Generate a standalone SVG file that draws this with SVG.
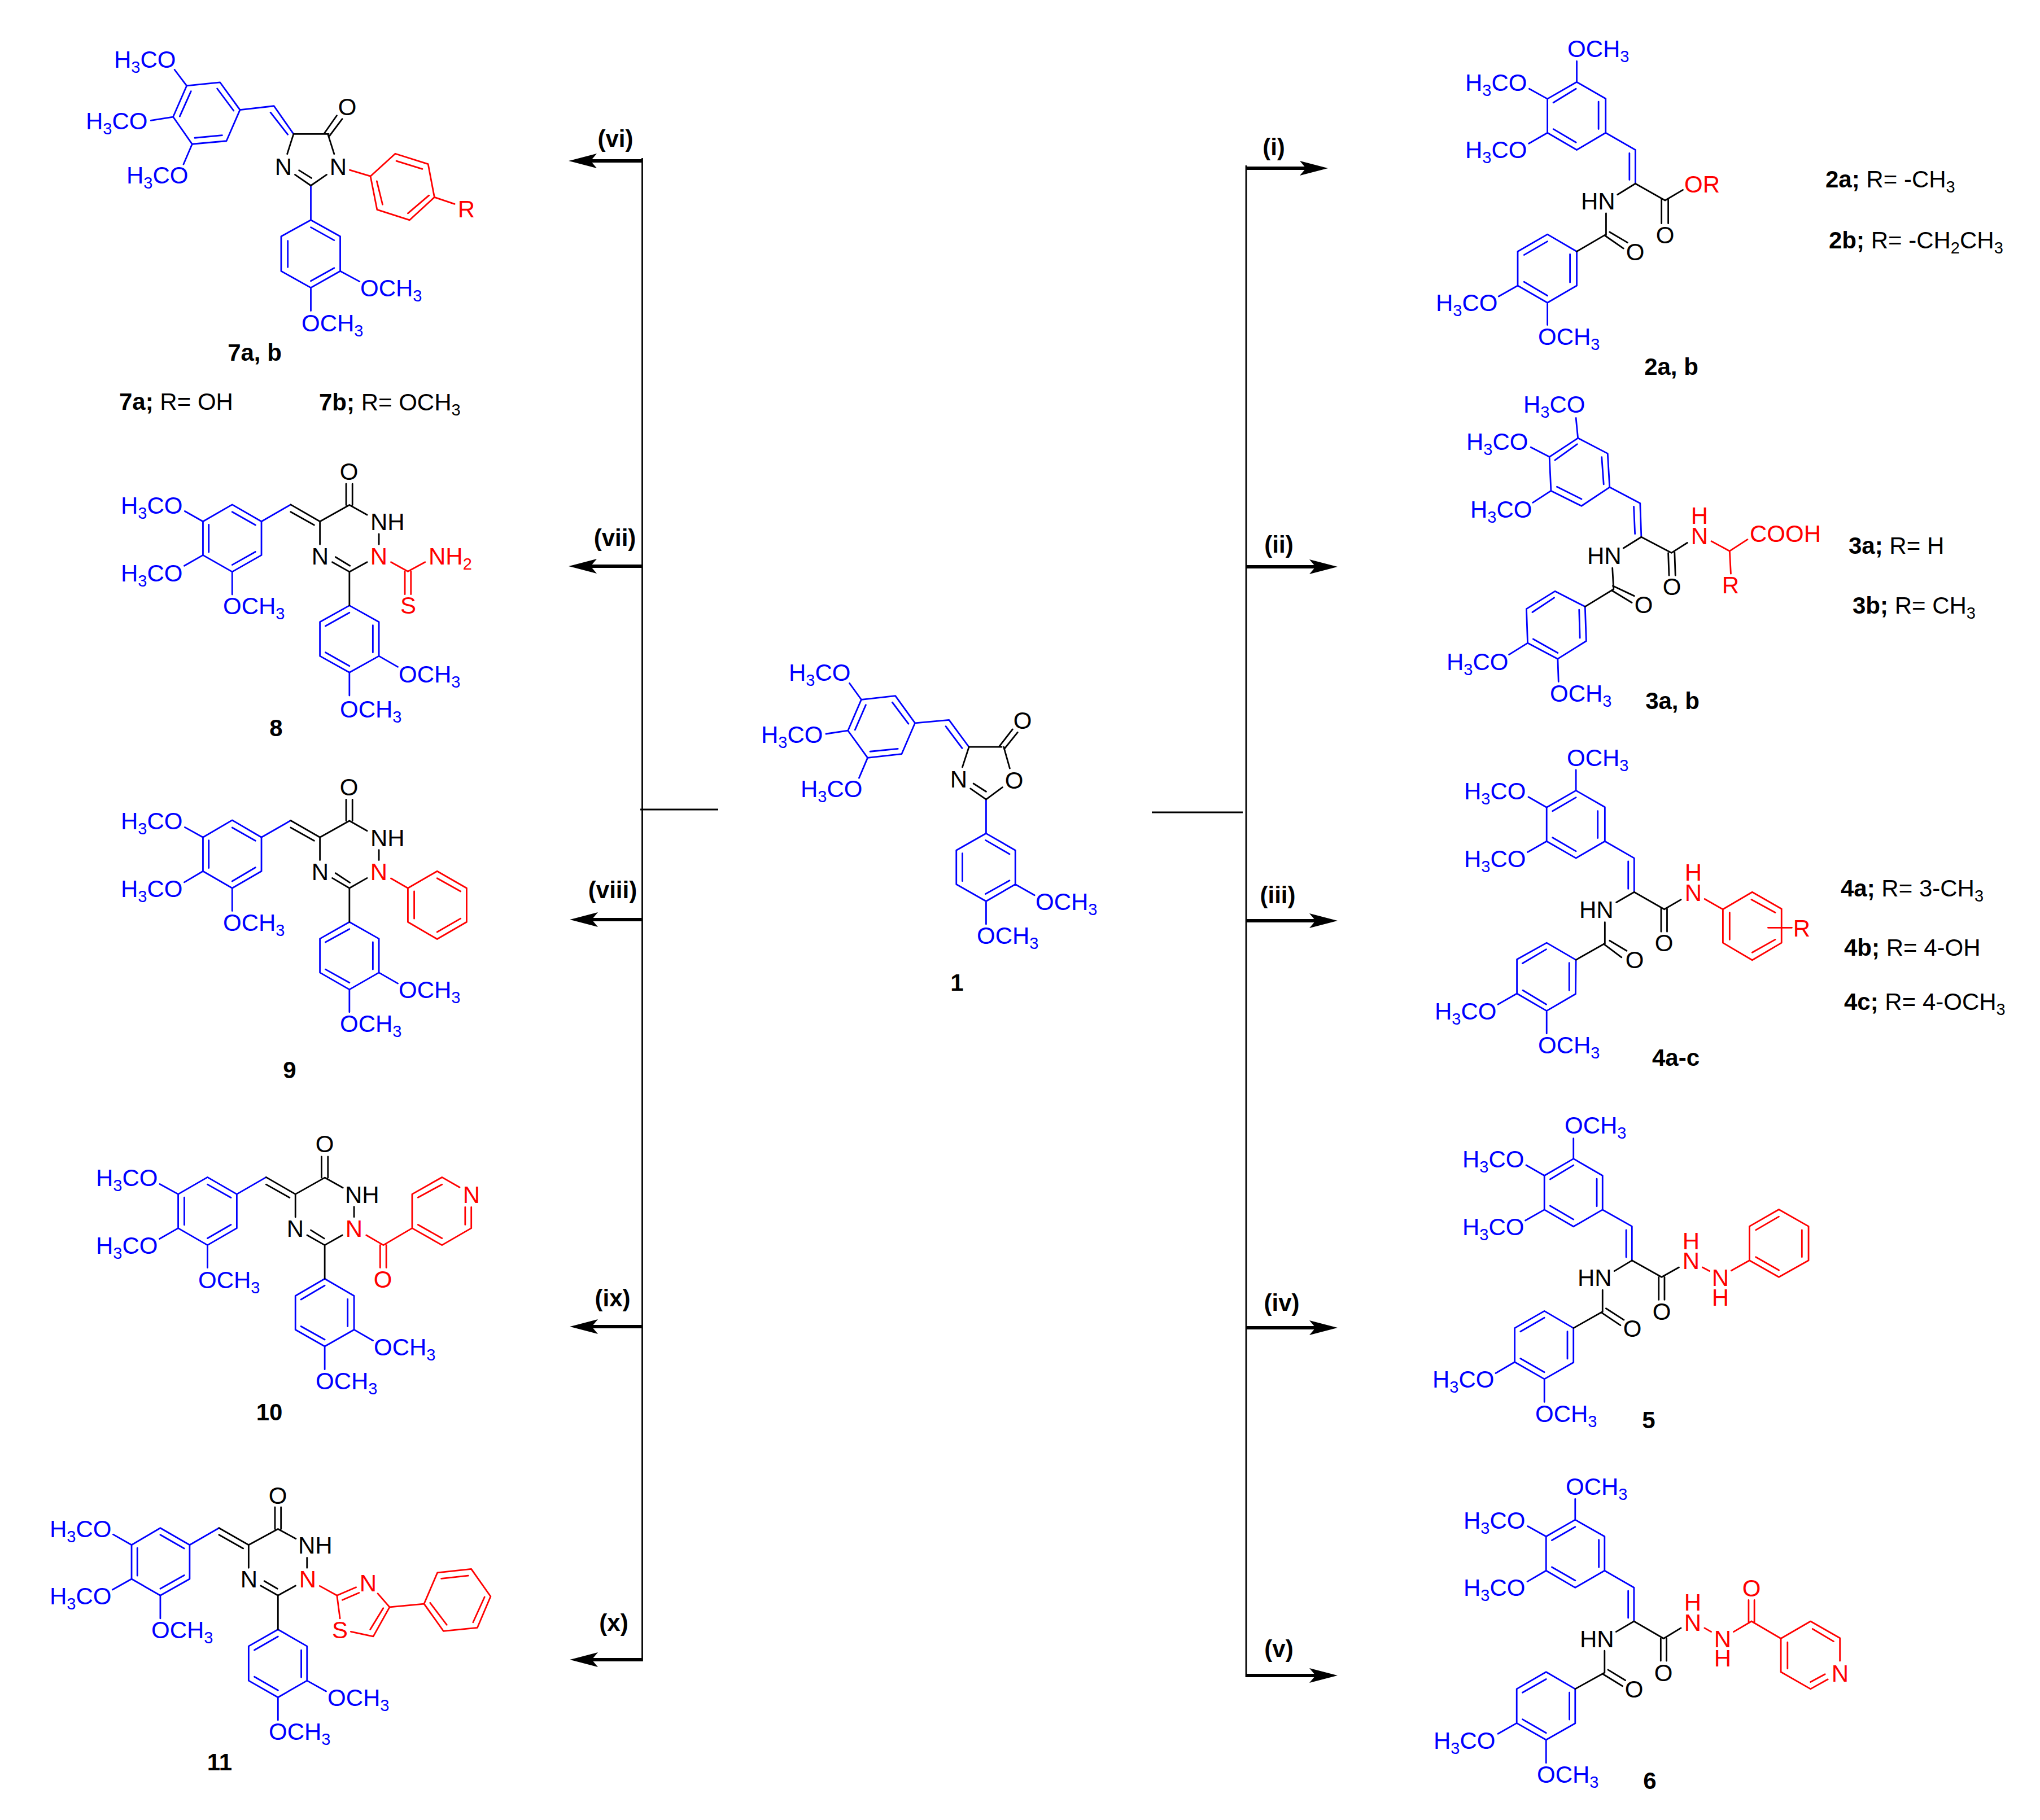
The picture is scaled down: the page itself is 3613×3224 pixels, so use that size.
<svg xmlns="http://www.w3.org/2000/svg" width="3613" height="3224" viewBox="0 0 3613 3224">
<style>
text{font-family:"Liberation Sans",Arial,sans-serif;font-size:42px;fill:#000}
.u{fill:#00f}.r{fill:#f00}.m{text-anchor:middle}.l{font-weight:bold}.s{font-size:29px}
path{fill:none;stroke-width:2.8;stroke-linejoin:round;stroke-linecap:round;vector-effect:non-scaling-stroke}
.B{stroke:#00f}.R{stroke:#f00}.K{stroke:#000}
.thin{stroke:#000;stroke-width:2.8;fill:none}
.shaft{stroke:#000;stroke-width:6;fill:none;marker-end:url(#head)}
</style>
<defs><marker id="head" markerUnits="userSpaceOnUse" markerWidth="50" markerHeight="26" viewBox="0 0 50 26" refX="15" refY="13" orient="auto"><polygon points="0,0 50,13 0,26 11,13" fill="#000"/></marker></defs>
<rect width="3613" height="3224" fill="#fff"/>

<g id="connectors">
<line class="thin" x1="1137.5" y1="280" x2="1137.5" y2="2943"/>
<line class="thin" x1="2207" y1="293" x2="2207" y2="2971"/>
<line class="thin" x1="1134" y1="1434" x2="1272" y2="1434"/>
<line class="thin" x1="2040" y1="1439" x2="2201" y2="1439"/>
<line class="shaft" x1="1137" y1="285" x2="1042" y2="285"/>
<line class="shaft" x1="1137" y1="1003" x2="1042" y2="1003"/>
<line class="shaft" x1="1137" y1="1629" x2="1044" y2="1629"/>
<line class="shaft" x1="1137" y1="2350" x2="1044" y2="2350"/>
<line class="shaft" x1="1137" y1="2940" x2="1044" y2="2940"/>
<line class="shaft" x1="2207" y1="298" x2="2317" y2="298"/>
<line class="shaft" x1="2207" y1="1004" x2="2334" y2="1004"/>
<line class="shaft" x1="2207" y1="1631" x2="2334" y2="1631"/>
<line class="shaft" x1="2207" y1="2352" x2="2334" y2="2352"/>
<line class="shaft" x1="2207" y1="2968" x2="2334" y2="2968"/>
</g>
<g id="connector-labels">
<text class="l m" x="1090" y="260">(vi)</text>
<text class="l m" x="1089" y="967">(vii)</text>
<text class="l m" x="1085" y="1591">(viii)</text>
<text class="l m" x="1085" y="2314">(ix)</text>
<text class="l m" x="1087" y="2889">(x)</text>
<text class="l m" x="2256" y="275">(i)</text>
<text class="l m" x="2265" y="979">(ii)</text>
<text class="l m" x="2263" y="1600">(iii)</text>
<text class="l m" x="2270" y="2322">(iv)</text>
<text class="l m" x="2265" y="2935">(v)</text>
</g>

<g id="compound-1">
<g transform="translate(1300,1100) scale(.44643)">
<path class="B" d="M505 312L640 297L718 405L665 528L530 543L452 435ZM628 323L692 408M650 507L540 518M480 432L523 333M505 312L458 247M452 435L365 448M530 543L496 623M718 405L853 393L932 500M840 418L905 505M1000 708L1000 843L1116 910L1116 1045L1000 1112L882 1045L882 910L1000 843M998 870L1093 925M906 922L906 1032M998 1083L1093 1030M1116 1045L1192 1088M1000 1112L1000 1203"/>
<path class="K" d="M932 500L1062 500M1052 498L1105 430M1072 508L1125 442M1070 500L1094 585M932 500L906 580M1000 708L1065 660M1000 708L938 665M1000 677L950 645"/>
</g>
<text class="u" x="1397" y="1206">H<tspan class="s" dy="9">3</tspan><tspan dy="-9">CO</tspan></text>
<text class="u" x="1348" y="1316">H<tspan class="s" dy="9">3</tspan><tspan dy="-9">CO</tspan></text>
<text class="u" x="1418" y="1412">H<tspan class="s" dy="9">3</tspan><tspan dy="-9">CO</tspan></text>
<text class="m" x="1811" y="1291">O</text>
<text class="m" x="1698" y="1395">N</text>
<text class="m" x="1796" y="1397">O</text>
<text class="u" x="1834" y="1612">OCH<tspan class="s" dy="9">3</tspan></text>
<text class="u" x="1730" y="1672">OCH<tspan class="s" dy="9">3</tspan></text>
<text class="l m" x="1695" y="1755">1</text>
</g>

<g id="compound-2">
<g transform="translate(2500,40) scale(.70153,.41454)">
<path class="B" d="M417 254L490 325L490 471L417 544L343 471L343 326ZM472 338L472 455M415 283L358 342M358 455L415 512M417 254L417 165M343 326L297 283M343 471L296 517M490 471L565 544L565 688M550 558L550 672M417 978L343 905L268 978L268 1124L343 1197L417 1124ZM400 990L400 1110M343 935L284 993M284 1108L343 1167M268 1124L220 1170M343 1197L343 1292"/>
<path class="K" d="M565 688L640 760M565 688L520 735M640 760L685 715M631 757L631 858M648 757L648 858M491 815L491 908M500 895L545 940M488 910L535 965M491 905L417 978"/>
</g>
<text class="u" x="2776" y="101">OCH<tspan class="s" dy="9">3</tspan></text>
<text class="u" x="2595" y="161">H<tspan class="s" dy="9">3</tspan><tspan dy="-9">CO</tspan></text>
<text class="u" x="2595" y="280">H<tspan class="s" dy="9">3</tspan><tspan dy="-9">CO</tspan></text>
<text class="r" x="2983" y="341">OR</text>
<text x="2800" y="371">HN</text>
<text class="m" x="2949" y="431">O</text>
<text class="m" x="2896" y="461">O</text>
<text class="u" x="2543" y="551">H<tspan class="s" dy="9">3</tspan><tspan dy="-9">CO</tspan></text>
<text class="u" x="2724" y="611">OCH<tspan class="s" dy="9">3</tspan></text>
<text class="l m" x="2960" y="664">2a, b</text>
<text x="3233" y="332"><tspan class="l">2a;</tspan> R= -CH<tspan class="s" dy="9">3</tspan></text>
<text x="3239" y="440"><tspan class="l">2b;</tspan> R= -CH<tspan class="s" dy="9">2</tspan><tspan dy="-9">CH</tspan><tspan class="s" dy="9">3</tspan></text>
</g>

<g id="compound-3">
<g transform="translate(2500,680) scale(.70153,.39541)">
<path class="B" d="M420 243L495 312L500 463L429 547L352 479L348 327ZM480 328L485 450M418 270L362 342M367 461L429 516M420 243L415 153M348 327L301 284M352 479L306 532M500 463L577 535L580 686M561 550L564 672M438 998L362 929L290 1008L293 1161L369 1232L441 1152ZM423 1012L425 1138M360 958L305 1023M307 1143L369 1205M293 1161L246 1213M369 1232L371 1334"/>
<path class="K" d="M580 686L656 757M580 686L535 736M648 758L650 858M664 755L666 858M656 757L696 712M507 825L510 920M508 905L562 950M505 925L556 980M510 920L438 998"/>
<path class="R" d="M757 705L803 749L848 697M803 749L806 850"/>
</g>
<text class="u" x="2698" y="731">H<tspan class="s" dy="9">3</tspan><tspan dy="-9">CO</tspan></text>
<text class="u" x="2597" y="797">H<tspan class="s" dy="9">3</tspan><tspan dy="-9">CO</tspan></text>
<text class="u" x="2604" y="917">H<tspan class="s" dy="9">3</tspan><tspan dy="-9">CO</tspan></text>
<text class="r m" x="3010" y="928">H</text>
<text class="r m" x="3010" y="964">N</text>
<text class="r" x="3099" y="960">COOH</text>
<text x="2811" y="999">HN</text>
<text class="m" x="2961" y="1054">O</text>
<text class="r m" x="3065" y="1051">R</text>
<text class="m" x="2911" y="1086">O</text>
<text class="u" x="2562" y="1187">H<tspan class="s" dy="9">3</tspan><tspan dy="-9">CO</tspan></text>
<text class="u" x="2745" y="1243">OCH<tspan class="s" dy="9">3</tspan></text>
<text class="l m" x="2962" y="1256">3a, b</text>
<text x="3274" y="981"><tspan class="l">3a;</tspan> R= H</text>
<text x="3281" y="1087"><tspan class="l">3b;</tspan> R= CH<tspan class="s" dy="9">3</tspan></text>
</g>

<g id="compound-4">
<g transform="translate(2500,1320) scale(.70153,.38265)">
<path class="B" d="M415 210L488 287L488 445L415 523L341 445L341 288ZM470 305L470 430M415 242L356 305M356 428L415 491M415 210L415 115M341 288L295 240M341 445L293 495M488 445L562 523L562 680M547 538L547 665M415 994L341 915L266 992L266 1150L341 1230L414 1152ZM398 1008L398 1135M340 945L280 1010M281 1135L340 1200M266 1150L218 1200M341 1230L341 1335"/>
<path class="K" d="M562 680L638 760M562 680L517 728M638 760L680 715M630 757L630 863M645 757L645 863M488 820L488 918M500 905L543 952M485 920L530 982M488 918L415 994"/>
<path class="R" d="M740 712L786 760L860 680L934 758L934 915L860 995L786 915L786 760M858 715L918 775M918 900L860 960M803 775L803 900M900 845L960 845"/>
</g>
<text class="u" x="2775" y="1357">OCH<tspan class="s" dy="9">3</tspan></text>
<text class="u" x="2593" y="1416">H<tspan class="s" dy="9">3</tspan><tspan dy="-9">CO</tspan></text>
<text class="u" x="2593" y="1536">H<tspan class="s" dy="9">3</tspan><tspan dy="-9">CO</tspan></text>
<text class="r m" x="2999" y="1560">H</text>
<text class="r m" x="2999" y="1596">N</text>
<text x="2797" y="1626">HN</text>
<text class="r m" x="3191" y="1659">R</text>
<text class="m" x="2947" y="1685">O</text>
<text class="m" x="2895" y="1715">O</text>
<text class="u" x="2541" y="1806">H<tspan class="s" dy="9">3</tspan><tspan dy="-9">CO</tspan></text>
<text class="u" x="2724" y="1866">OCH<tspan class="s" dy="9">3</tspan></text>
<text class="l m" x="2968" y="1888">4a-c</text>
<text x="3260" y="1588"><tspan class="l">4a;</tspan> R= 3-CH<tspan class="s" dy="9">3</tspan></text>
<text x="3266" y="1693"><tspan class="l">4b;</tspan> R= 4-OH</text>
<text x="3266" y="1789"><tspan class="l">4c;</tspan> R= 4-OCH<tspan class="s" dy="9">3</tspan></text>
</g>

<g id="compound-5">
<g transform="translate(2500,1960) scale(.5102,.38265)">
<path class="B" d="M562 242L663 320L663 478L562 556L461 478L461 320ZM643 335L643 462M562 272L481 337M481 460L562 523M562 242L562 148M461 320L398 272M461 478L395 528M663 478L765 555L765 713M745 572L745 698M562 1026L461 947L358 1026L358 1183L461 1262L562 1185ZM541 1042L541 1168M461 978L378 1042M378 1167L461 1230M358 1183L292 1235M461 1262L461 1368"/>
<path class="K" d="M765 713L868 790M765 713L704 762M868 790L928 745M858 790L858 895M878 790L878 895M663 850L663 950M675 935L737 988M660 955L725 1013M663 950L562 1026"/>
<path class="R" d="M1010 745L1034 762M1110 760L1173 713L1173 555L1275 477L1378 555L1378 713L1275 790L1173 713M1195 572L1275 510M1355 572L1355 697M1275 758L1195 697"/>
</g>
<text class="u" x="2771" y="2008">OCH<tspan class="s" dy="9">3</tspan></text>
<text class="u" x="2590" y="2068">H<tspan class="s" dy="9">3</tspan><tspan dy="-9">CO</tspan></text>
<text class="u" x="2590" y="2188">H<tspan class="s" dy="9">3</tspan><tspan dy="-9">CO</tspan></text>
<text class="r m" x="2995" y="2213">H</text>
<text class="r m" x="2995" y="2248">N</text>
<text x="2794" y="2278">HN</text>
<text class="r m" x="3047" y="2278">N</text>
<text class="r m" x="3047" y="2313">H</text>
<text class="m" x="2943" y="2338">O</text>
<text class="m" x="2891" y="2368">O</text>
<text class="u" x="2537" y="2458">H<tspan class="s" dy="9">3</tspan><tspan dy="-9">CO</tspan></text>
<text class="u" x="2719" y="2519">OCH<tspan class="s" dy="9">3</tspan></text>
<text class="l m" x="2920" y="2530">5</text>
</g>

<g id="compound-6">
<g transform="translate(2500,2600) scale(.5102,.39541)">
<path class="B" d="M568 233L670 308L670 461L568 537L467 461L467 308ZM650 323L650 446M568 265L487 325M487 445L568 505M568 233L568 140M467 308L403 262M467 461L402 510M670 461L772 537L772 688M752 552L752 673M568 991L467 915L365 991L365 1144L467 1219L568 1145ZM548 1007L548 1128M467 947L385 1007M385 1127L467 1188M365 1144L300 1192M467 1219L467 1322"/>
<path class="K" d="M772 688L875 765M772 688L710 735M875 765L935 718M865 765L865 865M885 765L885 865M670 820L670 918M682 905L742 952M665 925L732 978M670 918L568 991"/>
<path class="R" d="M1017 718L1040 735M1118 735L1180 688M1170 690L1170 593M1190 690L1190 593M1180 688L1282 765L1385 688L1487 763L1487 865M1282 765L1282 915L1385 991L1445 948M1392 722L1465 778M1305 782L1305 900M1385 960L1435 925"/>
</g>
<text class="u" x="2773" y="2648">OCH<tspan class="s" dy="9">3</tspan></text>
<text class="u" x="2592" y="2708">H<tspan class="s" dy="9">3</tspan><tspan dy="-9">CO</tspan></text>
<text class="u" x="2592" y="2827">H<tspan class="s" dy="9">3</tspan><tspan dy="-9">CO</tspan></text>
<text class="r m" x="3102" y="2828">O</text>
<text class="r m" x="2998" y="2853">H</text>
<text class="r m" x="2998" y="2889">N</text>
<text x="2798" y="2918">HN</text>
<text class="r m" x="3051" y="2918">N</text>
<text class="r m" x="3051" y="2952">H</text>
<text class="r m" x="3259" y="2979">N</text>
<text class="m" x="2946" y="2978">O</text>
<text class="m" x="2894" y="3007">O</text>
<text class="u" x="2539" y="3098">H<tspan class="s" dy="9">3</tspan><tspan dy="-9">CO</tspan></text>
<text class="u" x="2722" y="3158">OCH<tspan class="s" dy="9">3</tspan></text>
<text class="l m" x="2922" y="3169">6</text>
</g>

<g id="compound-7">
<g transform="translate(100,50) scale(.5102,.45918)">
<path class="B" d="M452 222L568 209L637 315L590 435L471 447L405 342ZM558 233L615 318M575 413L480 423M428 340L467 243M452 222L410 160M405 342L328 356M471 447L441 525M637 315L755 300L823 408M743 325L803 410M883 607L883 740L985 803L985 937L883 1001L780 937L780 803L883 740M883 768L964 818M803 820L803 922M883 975L964 925M985 937L1052 977M883 1001L883 1090"/>
<path class="K" d="M823 408L945 408M930 405L973 337M948 415L992 350M942 408L964 485M823 408L801 485M883 607L938 565M883 607L828 565M885 578L842 548"/>
<path class="R" d="M1018 547L1090 571L1176 484L1290 524L1312 652L1226 740L1113 700L1090 571M1180 512L1270 543M1293 645L1220 714M1132 680L1112 590M1312 652L1382 678"/>
</g>
<text class="u" x="202" y="120">H<tspan class="s" dy="9">3</tspan><tspan dy="-9">CO</tspan></text>
<text class="u" x="152" y="229">H<tspan class="s" dy="9">3</tspan><tspan dy="-9">CO</tspan></text>
<text class="u" x="224" y="325">H<tspan class="s" dy="9">3</tspan><tspan dy="-9">CO</tspan></text>
<text class="m" x="615" y="204">O</text>
<text class="m" x="502" y="310">N</text>
<text class="m" x="599" y="310">N</text>
<text class="r m" x="826" y="385">R</text>
<text class="u" x="638" y="525">OCH<tspan class="s" dy="9">3</tspan></text>
<text class="u" x="534" y="587">OCH<tspan class="s" dy="9">3</tspan></text>
<text class="l m" x="451" y="639">7a, b</text>
<text x="211" y="726"><tspan class="l">7a;</tspan> R= OH</text>
<text x="565" y="727"><tspan class="l">7b;</tspan> R= OCH<tspan class="s" dy="9">3</tspan></text>
</g>

<g id="compound-8">
<g transform="translate(180,800) scale(.44643,.33163)">
<path class="B" d="M518 283L634 373L634 553L518 642L402 553L402 373ZM518 322L610 392M610 535L518 605M425 390L425 537M402 373L330 318M402 553L328 610M518 642L518 763M634 373L750 283M983 822L1100 910L1100 1092L983 1180L866 1092L866 910ZM983 860L888 932M1076 928L1076 1073M983 1145L888 1073M1100 1092L1175 1150M983 1180L983 1303"/>
<path class="K" d="M750 283L866 373M750 322L843 392M866 373L983 285L1053 338M970 285L970 172M995 285L995 172M866 373L866 495M1100 440L1100 495M983 642L1053 590M983 642L915 590M985 610L928 563M983 642L983 822"/>
<path class="R" d="M1148 590L1215 640L1283 590M1203 640L1203 762M1227 640L1227 762"/>
</g>
<text class="u" x="214" y="910">H<tspan class="s" dy="9">3</tspan><tspan dy="-9">CO</tspan></text>
<text class="u" x="214" y="1030">H<tspan class="s" dy="9">3</tspan><tspan dy="-9">CO</tspan></text>
<text class="u" x="395" y="1088">OCH<tspan class="s" dy="9">3</tspan></text>
<text class="m" x="618" y="850">O</text>
<text x="656" y="939">NH</text>
<text class="m" x="567" y="1000">N</text>
<text class="r m" x="671" y="1000">N</text>
<text class="r" x="759" y="1000">NH<tspan class="s" dy="9">2</tspan></text>
<text class="r m" x="723" y="1087">S</text>
<text class="u" x="706" y="1209">OCH<tspan class="s" dy="9">3</tspan></text>
<text class="u" x="602" y="1271">OCH<tspan class="s" dy="9">3</tspan></text>
<text class="l m" x="489" y="1304">8</text>
</g>

<g id="compound-9">
<g transform="translate(180,1360) scale(.44643,.35714)">
<path class="B" d="M518 260L634 345L634 513L518 597L402 513L402 345ZM518 297L610 362M610 495L518 563M425 360L425 497M402 345L330 295M402 513L328 568M518 597L518 710M634 345L750 262M983 765L1100 848L1100 1016L983 1100L866 1016L866 848ZM983 800L888 865M1076 865L1076 1000M983 1066L888 1000M1100 1016L1175 1070M983 1100L983 1212"/>
<path class="K" d="M750 262L866 345M750 297L843 362M866 345L983 263L1053 313M970 263L970 158M995 263L995 158M866 345L866 458M1100 408L1100 458M983 597L1053 547M983 597L915 547M985 570L928 523M983 597L983 765"/>
<path class="R" d="M1148 549L1215 597L1331 513L1448 597L1448 765L1331 850L1215 765L1215 597M1331 548L1424 613M1424 748L1331 815M1240 613L1240 748"/>
</g>
<text class="u" x="214" y="1469">H<tspan class="s" dy="9">3</tspan><tspan dy="-9">CO</tspan></text>
<text class="u" x="214" y="1589">H<tspan class="s" dy="9">3</tspan><tspan dy="-9">CO</tspan></text>
<text class="u" x="395" y="1649">OCH<tspan class="s" dy="9">3</tspan></text>
<text class="m" x="618" y="1409">O</text>
<text x="656" y="1499">NH</text>
<text class="m" x="567" y="1559">N</text>
<text class="r m" x="671" y="1559">N</text>
<text class="u" x="706" y="1768">OCH<tspan class="s" dy="9">3</tspan></text>
<text class="u" x="602" y="1828">OCH<tspan class="s" dy="9">3</tspan></text>
<text class="l m" x="513" y="1910">9</text>
</g>

<g id="compound-10">
<g transform="translate(140,2000) scale(.47194,.34439)">
<path class="B" d="M482 248L592 335L592 510L482 597L372 510L372 335ZM482 285L570 353M570 492L482 562M395 352L395 493M372 335L303 283M372 510L302 565M482 597L482 713M592 335L702 248M922 770L1032 858L1032 1032L922 1118L812 1032L812 858ZM922 805L833 877M1008 875L1008 1015M922 1083L833 1015M1032 1032L1103 1088M922 1118L922 1236"/>
<path class="K" d="M702 248L812 335M702 285L790 353M812 335L922 250L990 302M910 250L910 142M934 250L934 142M812 335L812 453M1032 400L1032 452M922 597L988 546M922 597L856 546M920 563L870 520M922 597L922 770"/>
<path class="R" d="M1078 546L1142 597L1250 510M1130 597L1130 713M1153 597L1153 713M1250 510L1250 335L1362 248L1428 300M1250 510L1362 597L1472 510L1472 402M1272 352L1362 285M1272 492L1362 562M1449 402L1449 492"/>
</g>
<text class="u" x="170" y="2101">H<tspan class="s" dy="9">3</tspan><tspan dy="-9">CO</tspan></text>
<text class="u" x="170" y="2221">H<tspan class="s" dy="9">3</tspan><tspan dy="-9">CO</tspan></text>
<text class="u" x="351" y="2282">OCH<tspan class="s" dy="9">3</tspan></text>
<text class="m" x="575" y="2041">O</text>
<text x="611" y="2131">NH</text>
<text class="m" x="523" y="2191">N</text>
<text class="r m" x="627" y="2191">N</text>
<text class="r m" x="835" y="2131">N</text>
<text class="r m" x="678" y="2281">O</text>
<text class="u" x="662" y="2401">OCH<tspan class="s" dy="9">3</tspan></text>
<text class="u" x="559" y="2461">OCH<tspan class="s" dy="9">3</tspan></text>
<text class="l m" x="477" y="2516">10</text>
</g>

<g id="compound-11">
<g transform="translate(60,2600) scale(.53571,.34439)">
<path class="B" d="M418 310L515 397L515 572L418 657L323 572L323 397ZM418 345L497 415M497 553L418 622M342 413L342 555M323 397L262 343M323 572L260 627M418 657L418 775M515 397L612 310M807 832L903 918L903 1095L807 1181L710 1095L710 918ZM807 868L729 938M884 938L884 1078M807 1145L729 1075M903 1095L966 1150M807 1181L807 1298"/>
<path class="K" d="M612 310L710 397M612 345L692 415M710 397L807 315L866 365M797 315L797 203M817 315L817 203M710 397L710 515M903 463L903 515M807 657L865 607M807 657L750 607M805 622L762 583M807 657L807 832"/>
<path class="R" d="M945 608L1002 657L1065 615M1020 680L1075 643M1002 657L1012 775M1048 843L1122 868L1176 717L1137 647M1112 832L1155 722M1176 717L1290 700L1334 540L1446 521L1510 662L1466 823L1354 840L1290 700M1347 570L1436 555M1490 665L1452 795M1365 808L1310 695"/>
</g>
<text class="u" x="88" y="2723">H<tspan class="s" dy="9">3</tspan><tspan dy="-9">CO</tspan></text>
<text class="u" x="88" y="2842">H<tspan class="s" dy="9">3</tspan><tspan dy="-9">CO</tspan></text>
<text class="u" x="268" y="2902">OCH<tspan class="s" dy="9">3</tspan></text>
<text class="m" x="492" y="2664">O</text>
<text x="528" y="2752">NH</text>
<text class="m" x="441" y="2812">N</text>
<text class="r m" x="545" y="2812">N</text>
<text class="r m" x="652" y="2819">N</text>
<text class="r m" x="602" y="2902">S</text>
<text class="u" x="580" y="3022">OCH<tspan class="s" dy="9">3</tspan></text>
<text class="u" x="476" y="3082">OCH<tspan class="s" dy="9">3</tspan></text>
<text class="l m" x="389" y="3136">11</text>
</g>
</svg>
